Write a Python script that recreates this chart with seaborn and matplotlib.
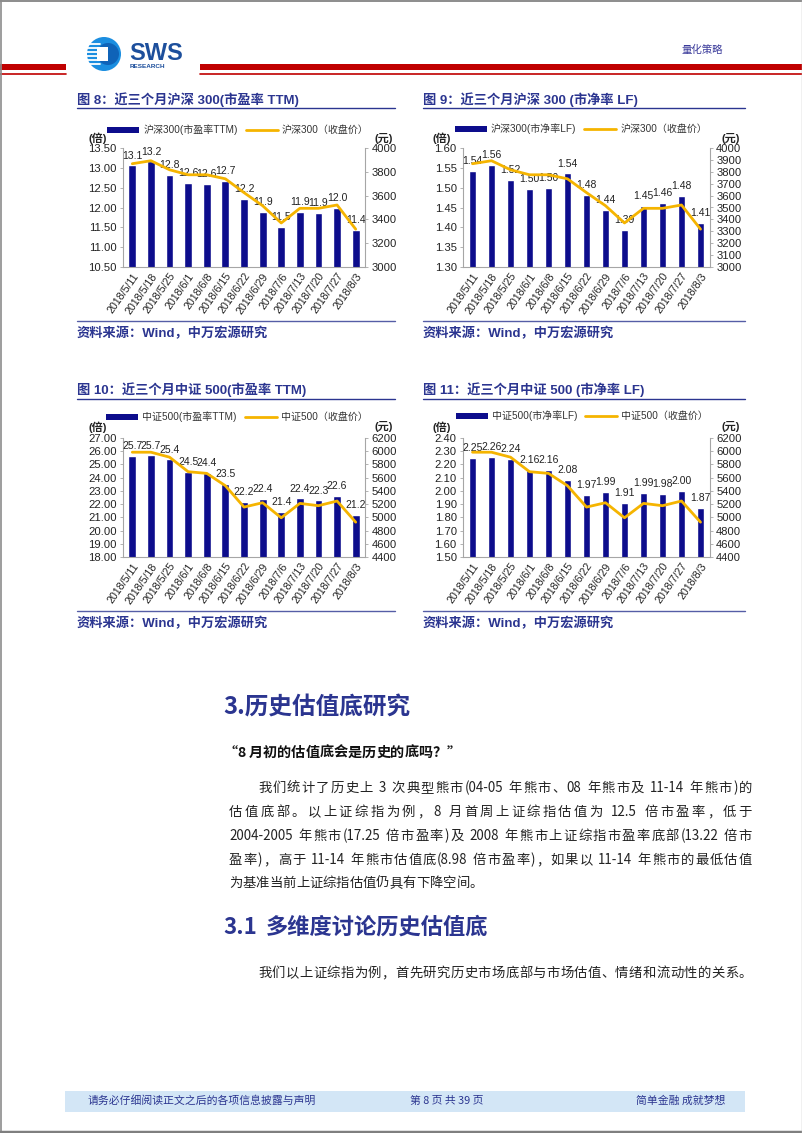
import re
import matplotlib
matplotlib.use("Agg")
import matplotlib.pyplot as plt
from matplotlib.patches import Patch, Rectangle, Circle
from matplotlib.lines import Line2D
from matplotlib.font_manager import FontProperties
from matplotlib.ticker import FormatStrFormatter, MultipleLocator
import seaborn as sns
import numpy as np
import pandas as pd

# ---------------- data ----------------
dates = ["2018/5/11", "2018/5/18", "2018/5/25", "2018/6/1", "2018/6/8", "2018/6/15",
         "2018/6/22", "2018/6/29", "2018/7/6", "2018/7/13", "2018/7/20", "2018/7/27", "2018/8/3"]
hs300_pe = [13.06, 13.16, 12.82, 12.62, 12.60, 12.66, 12.22, 11.89, 11.50, 11.89, 11.86, 11.99, 11.43]
hs300_pb = [1.543, 1.558, 1.519, 1.497, 1.500, 1.536, 1.482, 1.443, 1.394, 1.454, 1.461, 1.480, 1.411]
hs300_close = [3868, 3893, 3817, 3775, 3775, 3741, 3625, 3515, 3370, 3493, 3493, 3521, 3318]
zz500_pe = [25.66, 25.68, 25.38, 24.46, 24.36, 23.50, 22.18, 22.38, 21.44, 22.43, 22.28, 22.63, 21.16]
zz500_pb = [2.250, 2.260, 2.240, 2.159, 2.157, 2.083, 1.969, 1.989, 1.906, 1.987, 1.977, 2.000, 1.868]
zz500_close = [5985, 5985, 5910, 5690, 5665, 5478, 5155, 5221, 4993, 5211, 5176, 5247, 4927]

titles = ["图 8：近三个月沪深 300(市盈率 TTM)", "图 9：近三个月沪深 300 (市净率 LF)",
          "图 10：近三个月中证 500(市盈率 TTM)", "图 11：近三个月中证 500 (市净率 LF)"]
bar_labels = ["沪深300(市盈率TTM)", "沪深300(市净率LF)", "中证500(市盈率TTM)", "中证500(市净率LF)"]
line_labels = ["沪深300（收盘价）", "沪深300（收盘价）", "中证500（收盘价）", "中证500（收盘价）"]
source_text = "资料来源：Wind，中万宏源研究"

heading1 = "3.历史估值底研究"
quote = "“8 月初的估值底会是历史的底吗？”"
para_lines = ["我们统计了历史上 3 次典型熊市(04-05 年熊市、08 年熊市及 11-14 年熊市)的",
              "估值底部。以上证综指为例，8 月首周上证综指估值为 12.5 倍市盈率，低于",
              "2004-2005 年熊市(17.25 倍市盈率)及 2008 年熊市上证综指市盈率底部(13.22 倍市",
              "盈率)，高于 11-14 年熊市估值底(8.98 倍市盈率)，如果以 11-14 年熊市的最低估值",
              "为基准当前上证综指估值仍具有下降空间。"]
heading2_num = "3.1"
heading2_txt = "多维度讨论历史估值底"
para2 = "我们以上证综指为例，首先研究历史市场底部与市场估值、情绪和流动性的关系。"
header_tag = "量化策略"
footer_left = "请务必仔细阅读正文之后的各项信息披露与声明"
footer_mid = "第 8 页 共 39 页"
footer_right = "简单金融 成就梦想"

# ---------------- style ----------------
sns.set_style("white")
FAM = ["Liberation Sans", "Noto Sans CJK SC", "DejaVu Sans"]
CJK = ["Noto Sans CJK SC", "DejaVu Sans"]
plt.rcParams["font.family"] = FAM

W, H = 802, 1133
BAR = "#0d0d8c"
LINE = "#f5b400"
NAVY = "#2b3590"
GREY = "#a6a6a6"

fig = plt.figure(figsize=(W / 100, H / 100), dpi=100)
bg = fig.add_axes([0, 0, 1, 1])
bg.set_xlim(0, W)
bg.set_ylim(H, 0)
bg.axis("off")
renderer = fig.canvas.get_renderer()


def px_rect(l, t, r, b):
    return [l / W, 1 - b / H, (r - l) / W, (b - t) / H]


# ---------------- header ----------------
bg.add_patch(Rectangle((0, 64), 66, 6, color="#c00000", lw=0))
bg.add_patch(Rectangle((200, 64), W - 200, 6, color="#c00000", lw=0))
bg.plot([0, 66], [73.5, 73.5], color="#c00000", lw=1.2)
bg.plot([200, W], [73.5, 73.5], color="#c00000", lw=1.2)
bg.add_patch(Rectangle((68, 30), 128, 50, color="white", lw=0))
bg.add_patch(Circle((104, 54), 17, color="#1b8ee0", lw=0))
bg.add_patch(Circle((108, 54), 11, color="#0f63b8", lw=0))
for yy in [44, 48, 52, 56, 60, 64]:
    bg.plot([87, 100], [yy, yy], color="white", lw=1.3)
bg.add_patch(Rectangle((97, 47), 11, 14, color="white", lw=0))
bg.text(129, 53, "SWS", fontsize=17, fontweight="bold", color="#1d4f9c", ha="left", va="center",
        family=["Liberation Sans"])
bg.text(130, 67, "RESEARCH", fontsize=4.6, fontweight="bold", color="#1d4f9c", ha="left",
        va="center", family=["Liberation Sans"])
bg.text(682, 50, header_tag, fontsize=7.5, color="#3a3a9a", ha="left", va="center", family=CJK)

# ---------------- charts ----------------
charts = [
    dict(rect=(123, 148, 365, 267), vals=hs300_pe, fmt="{:.1f}", close=hs300_close,
         ylim=(10.5, 13.5), ystep=0.5, y2lim=(3000, 4000), y2step=200, tx=77, ty=100,
         ux=(77, 395), uy=108, leg=(238, 130), units=(98, 384, 138), sy=333, sepy=321),
    dict(rect=(463, 148, 710, 267), vals=hs300_pb, fmt="{:.2f}", close=hs300_close,
         ylim=(1.30, 1.60), ystep=0.05, y2lim=(3000, 4000), y2step=100, tx=423, ty=100,
         ux=(423, 745), uy=108, leg=(581, 129), units=(442, 731, 138), sy=333, sepy=321),
    dict(rect=(123, 438, 365, 557), vals=zz500_pe, fmt="{:.1f}", close=zz500_close,
         ylim=(18, 27), ystep=1, y2lim=(4400, 6200), y2step=200, tx=77, ty=390,
         ux=(77, 395), uy=399, leg=(237, 417), units=(98, 384, 427), sy=623, sepy=611),
    dict(rect=(463, 438, 710, 557), vals=zz500_pb, fmt="{:.2f}", close=zz500_close,
         ylim=(1.50, 2.40), ystep=0.10, y2lim=(4400, 6200), y2step=200, tx=423, ty=390,
         ux=(423, 745), uy=399, leg=(582, 416), units=(442, 731, 427), sy=623, sepy=611),
]

for i, c in enumerate(charts):
    ax = fig.add_axes(px_rect(*c["rect"]))
    ax.set_facecolor("none")
    df = pd.DataFrame({"date": dates, "value": c["vals"], "close": c["close"]})
    sns.barplot(data=df, x="date", y="value", ax=ax, color=BAR, width=0.42, saturation=1)
    ax.set_ylim(*c["ylim"])
    ax.yaxis.set_major_locator(MultipleLocator(c["ystep"]))
    ax.yaxis.set_major_formatter(FormatStrFormatter("%.2f"))
    ax.set_xlabel("")
    ax.set_ylabel("")
    for k, v in enumerate(c["vals"]):
        ax.annotate(c["fmt"].format(v), (k, v), xytext=(0, 3.5), textcoords="offset points",
                    ha="center", va="bottom", fontsize=7.5, color="#222222")
    ax2 = ax.twinx()
    ax2.set_facecolor("none")
    sns.lineplot(x=np.arange(len(dates)), y=df["close"], ax=ax2, color=LINE, linewidth=2.0,
                 legend=False)
    ax2.set_ylim(*c["y2lim"])
    ax2.yaxis.set_major_locator(MultipleLocator(c["y2step"]))
    ax2.set_ylabel("")
    ax.set_xlim(-0.5, len(dates) - 0.5)
    ax.set_xticks(range(len(dates)))
    ax.set_xticklabels(dates, rotation=55, ha="right", rotation_mode="anchor", fontsize=7.7,
                       color="#222222")
    ax.tick_params(axis="x", length=0, pad=3)
    ax.tick_params(axis="y", length=2.5, width=0.6, color=GREY, labelsize=8.1,
                   labelcolor="#222222", pad=2)
    ax2.tick_params(axis="y", length=2.5, width=0.6, color=GREY, labelsize=8.1,
                    labelcolor="#222222", pad=2)
    for a in (ax, ax2):
        for s in a.spines.values():
            s.set_visible(False)
    ax.spines["left"].set_visible(True)
    ax.spines["bottom"].set_visible(True)
    ax2.spines["right"].set_visible(True)
    for s in (ax.spines["left"], ax.spines["bottom"], ax2.spines["right"]):
        s.set_color(GREY)
        s.set_linewidth(0.8)

    handles = [Patch(facecolor=BAR, edgecolor="none"), Line2D([], [], color=LINE, lw=2.0)]
    ax.legend(handles, [bar_labels[i], line_labels[i]], loc="center",
              bbox_to_anchor=(c["leg"][0] / W, 1 - c["leg"][1] / H),
              bbox_transform=fig.transFigure, ncol=2, frameon=False, fontsize=7.2,
              handlelength=3.2, handleheight=0.5, columnspacing=0.8, handletextpad=0.4,
              borderpad=0, labelcolor="#333333")

    ux, rx, uy = c["units"]
    bg.text(ux, uy, "(倍)", fontsize=8, fontweight="bold", ha="center", va="center", color="#222222")
    bg.text(rx, uy, "(元)", fontsize=8, fontweight="bold", ha="center", va="center", color="#222222")

    bg.text(c["tx"], c["ty"], titles[i], fontsize=9.5, fontweight="bold", color=NAVY,
            ha="left", va="center")
    bg.plot(c["ux"], [c["uy"], c["uy"]], color=NAVY, lw=1.0)
    bg.plot(c["ux"], [c["sepy"], c["sepy"]], color=NAVY, lw=1.0, alpha=0.8)
    bg.text(c["tx"], c["sy"], source_text, fontsize=9.5, fontweight="bold", color=NAVY,
            ha="left", va="center")

# ---------------- body text ----------------
BODY = ["Noto Sans CJK SC", "DejaVu Sans"]


def put_line(x0, x1, y, s, fs, justify, color="#222222", weight="normal"):
    prop = FontProperties(family=BODY, size=fs, weight=weight)
    toks = re.findall(r"[\x21-\x7e]+| +|[^\x00-\x7f]", s)
    widths = []
    for t in toks:
        if t.strip() == "":
            widths.append(len(t) * fs * 0.25 * 100 / 72)
        else:
            w, h, d = renderer.get_text_width_height_descent(t, prop, ismath=False)
            widths.append(w)
    total = sum(widths)
    gap = (x1 - x0 - total) / (len(toks) - 1) if (justify and len(toks) > 1) else 0
    x = x0
    for t, w in zip(toks, widths):
        if t.strip():
            bg.text(x, y, t, fontproperties=prop, ha="left", va="center", color=color)
        x += w + gap


bg.text(223, 708, heading1, fontsize=17, fontweight="bold", color=NAVY, ha="left", va="center",
        family=BODY)
put_line(223, 437, 753, quote, 10.2, False, color="#111111", weight="bold")
starts = [258, 229, 229, 229, 229]
ys = [788, 812, 836, 860, 883]
for k, line in enumerate(para_lines):
    put_line(starts[k], 752, ys[k], line, 9.6, k < 4)
bg.text(223, 927, heading2_num, fontsize=16, fontweight="bold", color=NAVY, ha="left", va="center",
        family=BODY)
bg.text(266, 927, heading2_txt, fontsize=16, fontweight="bold", color=NAVY, ha="left", va="center",
        family=BODY)
put_line(258, 752, 973, para2, 9.6, True)

# ---------------- footer ----------------
bg.add_patch(Rectangle((65, 1091), 680, 21, color="#d3e6f6", lw=0))
bg.text(88, 1101, footer_left, fontsize=7.8, color=NAVY, ha="left", va="center", family=CJK)
bg.text(447, 1101, footer_mid, fontsize=7.8, color=NAVY, ha="center", va="center", family=CJK)
bg.text(725, 1101, footer_right, fontsize=7.8, color=NAVY, ha="right", va="center", family=CJK)

# page frame
bg.plot([0.5, 0.5], [0, H], color="#8c8c8c", lw=1.2)
bg.plot([0, W], [0.7, 0.7], color="#8c8c8c", lw=1.4)
bg.plot([0, W], [H - 1.5, H - 1.5], color="#7f7f7f", lw=2.5)
bg.plot([W - 0.5, W - 0.5], [0, H], color="#bbbbbb", lw=1.0)

fig.savefig("out.png", dpi=100)
